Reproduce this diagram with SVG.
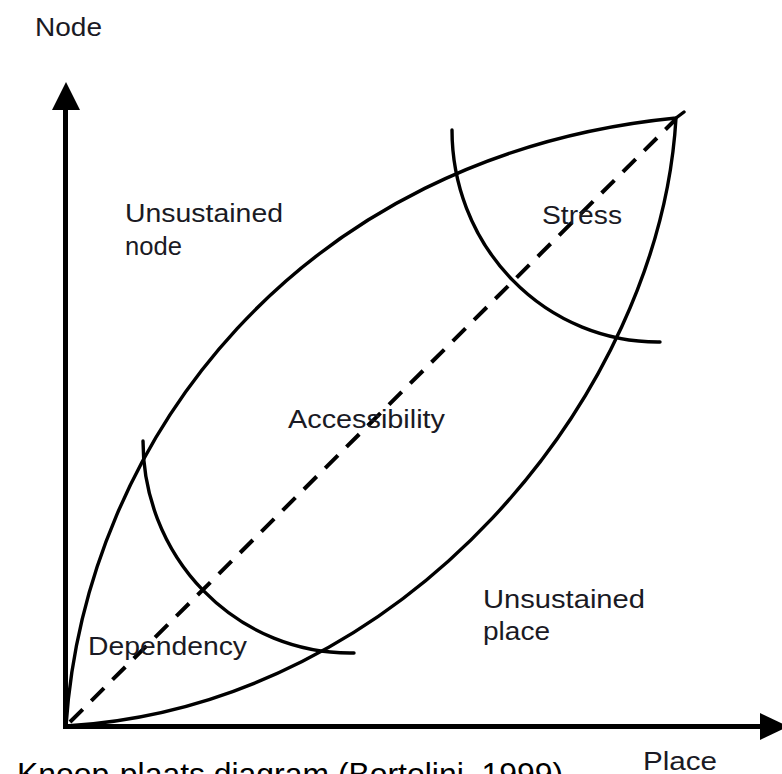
<svg xmlns="http://www.w3.org/2000/svg" width="782" height="774" viewBox="0 0 782 774">
  <style>
    .lbl { font-family: "Liberation Sans", Arial, Helvetica, sans-serif; font-size: 25px; fill: #1a1a24; }
    .cap { font-family: "Liberation Sans", Arial, Helvetica, sans-serif; font-size: 32px; fill: #000; }
    .curve { fill: none; stroke: #000; stroke-width: 3.4; stroke-linecap: round; stroke-linejoin: round; }
    .axis { fill: none; stroke: #000; stroke-width: 5; }
    .dash { fill: none; stroke: #000; stroke-width: 4; stroke-dasharray: 18 12; }
  </style>
  <rect width="782" height="774" fill="#fff"/>

  <!-- axes -->
  <g id="axes">
    <line class="axis" x1="65.5" y1="729" x2="65.5" y2="104"/>
    <polygon points="66,82 52,110 80,110" fill="#000"/>
    <line class="axis" x1="63" y1="726.5" x2="762" y2="726.5"/>
    <polygon points="788,726.5 760,713 760,740" fill="#000"/>
  </g>

  <!-- lens boundaries, zone arcs and diagonal -->
  <g id="connectors">
    <path id="upper" class="curve" d="M66,726 C85,440 300,155 676,118 L684,112"/>
    <path id="lower" class="curve" d="M66,726 C405,706 660,395 676,118"/>
    <path id="dependency-arc" class="curve" d="M143,441 A207 212 0 0 0 350,653 L354,653"/>
    <path id="stress-arc" class="curve" d="M452,130 A206 212 0 0 0 658,342 L660,342"/>
    <line id="diagonal" class="dash" x1="70" y1="722" x2="675" y2="120"/>
  </g>

  <!-- labels -->
  <g id="node-axis"><text class="lbl" x="35" y="36" textLength="67" lengthAdjust="spacingAndGlyphs">Node</text></g>
  <g id="place-axis"><text class="lbl" x="643" y="770" textLength="74" lengthAdjust="spacingAndGlyphs">Place</text></g>
  <g id="unsustained-node">
    <text class="lbl" x="125" y="222" textLength="158" lengthAdjust="spacingAndGlyphs">Unsustained</text>
    <text class="lbl" x="125" y="255" textLength="57" lengthAdjust="spacingAndGlyphs">node</text>
  </g>
  <g id="stress"><text class="lbl" x="542" y="224" textLength="80" lengthAdjust="spacingAndGlyphs">Stress</text></g>
  <g id="accessibility"><text class="lbl" x="288" y="428" textLength="157" lengthAdjust="spacingAndGlyphs">Accessibility</text></g>
  <g id="dependency"><text class="lbl" x="88" y="655" textLength="159" lengthAdjust="spacingAndGlyphs">Dependency</text></g>
  <g id="unsustained-place">
    <text class="lbl" x="483" y="608" textLength="162" lengthAdjust="spacingAndGlyphs">Unsustained</text>
    <text class="lbl" x="483" y="640" textLength="67" lengthAdjust="spacingAndGlyphs">place</text>
  </g>
  <g id="caption"><text class="cap" x="17" y="785" textLength="546" lengthAdjust="spacingAndGlyphs">Knoop-plaats diagram (Bortolini, 1999)</text></g>
</svg>
